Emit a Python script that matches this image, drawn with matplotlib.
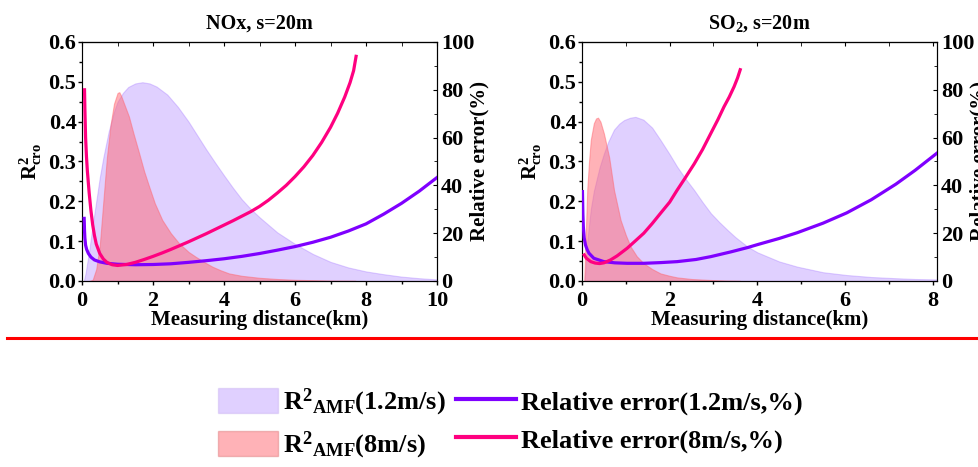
import matplotlib
matplotlib.use('Agg')
import matplotlib.pyplot as plt
from matplotlib.patches import Patch
from matplotlib.lines import Line2D
from matplotlib.ticker import MultipleLocator, FormatStrFormatter

plt.rcParams['font.family'] = ['Liberation Serif', 'DejaVu Serif']
plt.rcParams['font.weight'] = 'bold'
plt.rcParams['axes.titleweight'] = 'bold'
plt.rcParams['axes.labelweight'] = 'bold'
plt.rcParams['mathtext.fontset'] = 'custom'
plt.rcParams['mathtext.rm'] = 'Liberation Serif:bold'
plt.rcParams['mathtext.bf'] = 'Liberation Serif:bold'
plt.rcParams['mathtext.it'] = 'Liberation Serif:bold'
plt.rcParams['mathtext.default'] = 'bf'

# ---- NOx panel ----
nox_fill_slow_x = [0.05, 0.1, 0.2, 0.3, 0.4, 0.5, 0.6, 0.75, 0.9, 1.0, 1.15, 1.3, 1.5, 1.7, 1.9, 2.1,
                   2.4, 2.7, 3.0, 3.25, 3.5, 3.75, 4.0, 4.25, 4.5, 4.75, 5.0, 5.5, 6.0, 6.5, 7.0, 7.5, 8.0,
                   8.5, 9.0, 9.5, 10.0]
nox_fill_slow_y = [0.0, 0.02, 0.075, 0.14, 0.2, 0.26, 0.31, 0.375, 0.425, 0.45, 0.472, 0.487, 0.496, 0.499, 0.496, 0.488,
                   0.468, 0.437, 0.40, 0.365, 0.33, 0.297, 0.265, 0.234, 0.205, 0.181, 0.16, 0.122, 0.093, 0.068, 0.048,
                   0.034, 0.024, 0.017, 0.011, 0.007, 0.004]

nox_fill_fast_x = [0.2, 0.3, 0.4, 0.5, 0.6, 0.7, 0.8, 0.9, 1.0, 1.05, 1.1, 1.18, 1.32, 1.45, 1.61, 1.75, 1.89, 2.05,
                   2.26, 2.5, 2.73, 3.0, 3.2, 3.45, 3.67, 3.9, 4.14, 4.5, 5.0, 5.5, 6.0, 6.5, 7.0, 7.7]
nox_fill_fast_y = [0.0, 0.003, 0.03, 0.09, 0.2, 0.31, 0.39, 0.445, 0.472, 0.474, 0.465, 0.446, 0.413, 0.37, 0.32, 0.275,
                   0.237, 0.195, 0.153, 0.12, 0.095, 0.073, 0.061, 0.047, 0.036, 0.027, 0.019, 0.013, 0.008, 0.005,
                   0.003, 0.002, 0.001, 0.0005]

nox_err_slow_x = [0.06, 0.07, 0.08, 0.1, 0.13, 0.18, 0.25, 0.35, 0.5, 0.7, 1.0, 1.5, 2.0, 2.5, 3.0, 3.5, 4.0,
                  4.5, 5.0, 5.5, 6.0, 6.5, 7.0, 7.5, 8.0, 8.5, 9.0, 9.5, 10.0]
nox_err_slow_y = [26.2, 21.0, 18.0, 15.0, 13.2, 11.5, 10.0, 8.8, 8.0, 7.4, 7.0, 6.8, 6.9, 7.2, 7.8, 8.5, 9.3,
                  10.3, 11.5, 12.9, 14.4, 16.2, 18.3, 20.9, 23.9, 28.0, 32.5, 37.6, 43.3]

nox_err_fast_x = [0.07, 0.08, 0.1, 0.125, 0.15, 0.2, 0.25, 0.3, 0.35, 0.4, 0.5, 0.6, 0.7, 0.85, 1.0, 1.25, 1.5,
                  1.75, 2.0, 2.25, 2.5, 2.75, 3.0, 3.25, 3.5, 3.75, 4.0, 4.25, 4.5, 4.75, 5.0, 5.25, 5.5, 5.75,
                  6.0, 6.25, 6.5, 6.75, 7.0, 7.2, 7.4, 7.55, 7.65, 7.72]
nox_err_fast_y = [80.0, 72.0, 60.0, 52.0, 46.0, 37.0, 29.5, 23.5, 19.0, 15.5, 11.5, 9.2, 7.8, 6.8, 6.5, 6.9, 7.8,
                  9.0, 10.3, 11.7, 13.2, 14.8, 16.4, 18.1, 19.8, 21.6, 23.4, 25.2, 27.1, 29.0, 31.2, 33.8, 36.8, 40.0,
                  43.7, 47.8, 52.5, 58.0, 64.3, 70.2, 77.0, 83.0, 88.0, 94.0]

# ---- SO2 panel ----
so2_fill_slow_x = [0.06, 0.12, 0.2, 0.27, 0.4, 0.5, 0.6, 0.73, 0.85, 0.96, 1.1, 1.22, 1.4, 1.6, 1.79, 2.0, 2.17,
                   2.36, 2.56, 2.75, 2.94, 3.13, 3.32, 3.5, 3.78, 4.0, 4.5, 4.91, 5.5, 6.04, 6.6, 7.16, 7.6, 8.1]
so2_fill_slow_y = [0.0, 0.10, 0.18, 0.226, 0.285, 0.32, 0.35, 0.38, 0.395, 0.404, 0.41, 0.412, 0.405, 0.385, 0.354,
                   0.318, 0.287, 0.257, 0.228, 0.198, 0.17, 0.148, 0.128, 0.11, 0.086, 0.072, 0.049, 0.036, 0.022,
                   0.015, 0.01, 0.007, 0.005, 0.004]

so2_fill_fast_x = [0.05, 0.08, 0.12, 0.16, 0.2, 0.27, 0.32, 0.365, 0.42, 0.5, 0.62, 0.73, 0.88, 1.0, 1.11, 1.25,
                   1.41, 1.6, 1.79, 2.0, 2.17, 2.5, 2.93, 3.3, 3.6]
so2_fill_fast_y = [0.0, 0.10, 0.23, 0.30, 0.354, 0.396, 0.408, 0.41, 0.40, 0.37, 0.31, 0.228, 0.153, 0.115, 0.086,
                   0.062, 0.044, 0.03, 0.019, 0.013, 0.009, 0.005, 0.0025, 0.001, 0.0005]

so2_err_slow_x = [0.01, 0.02, 0.03, 0.05, 0.08, 0.12, 0.16, 0.27, 0.5, 0.75, 1.03, 1.41, 1.8, 2.17, 2.6, 2.94,
                  3.4, 3.78, 4.0, 4.5, 4.91, 5.5, 6.04, 6.6, 7.16, 7.6, 8.1]
so2_err_slow_y = [37.4, 28.0, 22.7, 18.0, 15.0, 13.0, 11.6, 9.5, 8.1, 7.6, 7.4, 7.4, 7.7, 8.1, 9.0, 10.2,
                  12.2, 14.0, 15.2, 17.8, 20.2, 24.2, 28.5, 34.0, 40.5, 46.3, 53.5]

so2_err_fast_x = [0.05, 0.1, 0.2, 0.3, 0.4, 0.5, 0.65, 0.8, 1.03, 1.2, 1.41, 1.6, 1.79, 2.0, 2.17, 2.35, 2.56,
                  2.75, 2.94, 3.1, 3.24, 3.36, 3.47, 3.55, 3.61]
so2_err_fast_y = [10.9, 9.5, 8.1, 7.5, 7.3, 7.6, 8.8, 10.5, 13.7, 16.5, 20.0, 24.0, 28.3, 33.0, 38.0, 43.0, 49.0,
                  55.0, 61.8, 67.5, 72.9, 77.0, 81.3, 85.0, 88.4]

c_slow_fill = '#9966FF'
c_fast_fill = '#FF6670'
c_slow_line = '#7F00FF'
c_fast_line = '#FF0080'

fig = plt.figure(figsize=(9.79, 4.67), dpi=100)

panels = [
    (0.0838, 10.0, [0, 2, 4, 6, 8, 10], 'NOx, s=20m',
     nox_fill_slow_x, nox_fill_slow_y, nox_fill_fast_x, nox_fill_fast_y,
     nox_err_slow_x, nox_err_slow_y, nox_err_fast_x, nox_err_fast_y),
    (0.5945, 8.1, [0, 2, 4, 6, 8], r'SO$_\mathbf{2}$, s=20m',
     so2_fill_slow_x, so2_fill_slow_y, so2_fill_fast_x, so2_fill_fast_y,
     so2_err_slow_x, so2_err_slow_y, so2_err_fast_x, so2_err_fast_y),
]

for (left, xmax, xt, title, fsx, fsy, ffx, ffy, esx, esy, efx, efy) in panels:
    ax = fig.add_axes([left, 0.3983, 0.3626, 0.5118])
    ax.fill_between(fsx, 0, fsy, color=c_slow_fill, alpha=0.3, lw=0.8, zorder=1)
    ax.fill_between(ffx, 0, ffy, color=c_fast_fill, alpha=0.5, lw=0.8, zorder=2)
    ax.set_xlim(0, xmax)
    ax.set_ylim(0, 0.6)
    ax.set_xticks(xt)
    ax.xaxis.set_minor_locator(MultipleLocator(1))
    ax.yaxis.set_major_locator(MultipleLocator(0.1))
    ax.yaxis.set_minor_locator(MultipleLocator(0.05))
    ax.yaxis.set_major_formatter(FormatStrFormatter('%.1f'))
    ax.tick_params(which='both', direction='out', labelsize=16)
    ax.tick_params(axis='x', pad=4)
    ax.tick_params(axis='y', pad=1)
    ax.tick_params(which='major', length=3, width=1)
    ax.tick_params(which='minor', length=2, width=1)
    ax.spines['left'].set_color('#777777')
    ax.set_xlabel('Measuring distance(km)', fontsize=15, labelpad=-0.5)
    ax.set_ylabel(r'$\mathbf{R}^{\mathbf{2}}_{\mathbf{cro}}$', fontsize=15, labelpad=3)
    ax.set_title(title, fontsize=14.5, pad=10)

    sec = ax.secondary_xaxis('top')
    sec.set_xticks(xt)
    sec.xaxis.set_minor_locator(MultipleLocator(1))
    sec.tick_params(which='both', direction='in', labeltop=False, length=3)

    ax2 = ax.twinx()
    ax2.plot(esx, esy, color=c_slow_line, lw=2.3, zorder=3)
    ax2.plot(efx, efy, color=c_fast_line, lw=2.3, zorder=3)
    ax2.set_ylim(0, 100)
    ax2.yaxis.set_major_locator(MultipleLocator(20))
    ax2.yaxis.set_minor_locator(MultipleLocator(10))
    ax2.tick_params(which='both', direction='in', labelsize=16, pad=3)
    ax2.tick_params(which='major', length=3)
    ax2.tick_params(which='minor', length=2.5)
    ax2.set_ylabel('Relative error(%)', fontsize=15, labelpad=-4)

fig.add_artist(Line2D([0.007, 1.0], [1 - 338 / 467, 1 - 338 / 467], color='#FF0000', lw=2.2))

handles = [
    Patch(facecolor=c_slow_fill, alpha=0.3, edgecolor='#B89AE8'),
    Patch(facecolor=c_fast_fill, alpha=0.5, edgecolor='#E08080'),
    Line2D([], [], color=c_slow_line, lw=3),
    Line2D([], [], color=c_fast_line, lw=3),
]
labels = [
    r'$\mathbf{R}^{\mathbf{2}}{}_{\mathbf{AMF}}$(1.2m/s)',
    r'$\mathbf{R}^{\mathbf{2}}{}_{\mathbf{AMF}}$(8m/s)',
    'Relative error(1.2m/s,%)',
    'Relative error(8m/s,%)',
]
fig.legend(handles, labels, ncol=2, loc='center left', bbox_to_anchor=(218 / 979, 1 - 424 / 467),
           frameon=False, fontsize=19, handlelength=2.27, handleheight=1.06,
           handletextpad=0.2, columnspacing=0.38, labelspacing=0.43, borderpad=0, borderaxespad=0)

fig.savefig('out.png', dpi=100)
